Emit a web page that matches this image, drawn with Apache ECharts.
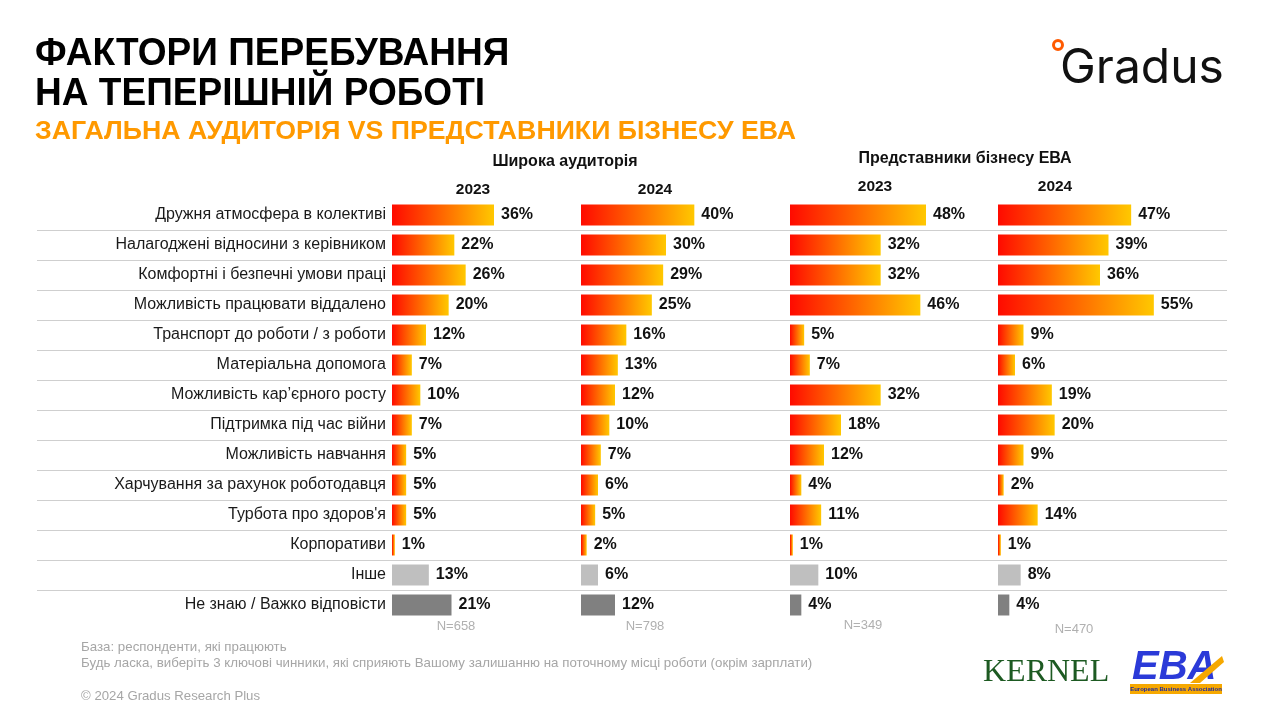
<!DOCTYPE html>
<html>
<head>
<meta charset="utf-8">
<script src="https://cdn.jsdelivr.net/npm/echarts@6/dist/echarts.min.js"></script>
<style>
html,body{margin:0;padding:0;background:#fff;}
#chart{width:1270px;height:707px;}
</style>
</head>
<body>
<div id="chart"></div>
<script>
// ---- Data ----
const categories = [
  'Дружня атмосфера в колективі',
  'Налагоджені відносини з керівником',
  'Комфортні і безпечні умови праці',
  'Можливість працювати віддалено',
  'Транспорт до роботи / з роботи',
  'Матеріальна допомога',
  'Можливість кар’єрного росту',
  'Підтримка під час війни',
  'Можливість навчання',
  'Харчування за рахунок роботодавця',
  "Турбота про здоров'я",
  'Корпоративи',
  'Інше',
  'Не знаю / Важко відповісти'
];
const wide2023 = [36, 22, 26, 20, 12, 7, 10, 7, 5, 5, 5, 1, 13, 21];
const wide2024 = [40, 30, 29, 25, 16, 13, 12, 10, 7, 6, 5, 2, 6, 12];
const eba2023  = [48, 32, 32, 46, 5, 7, 32, 18, 12, 4, 11, 1, 10, 4];
const eba2024  = [47, 39, 36, 55, 9, 6, 19, 20, 9, 2, 14, 1, 8, 4];
const panelYears = ['2023', '2024', '2023', '2024'];
const groupTitles = ['Широка аудиторія', 'Представники бізнесу ЕВА'];
const sampleSizes = ['N=658', 'N=798', 'N=349', 'N=470'];

// ---- Layout / style ----
const series = [wide2023, wide2024, eba2023, eba2024];
const panelLeft = [392, 581, 790, 998];
const gridTop = 200, gridHeight = 420;
const chart = echarts.init(document.getElementById('chart'));
const FONT = '"Liberation Sans", Arial, sans-serif';

function barColor(i) {
  if (i === categories.length - 2) return '#bfbfbf';
  if (i === categories.length - 1) return '#808080';
  return new echarts.graphic.LinearGradient(0, 0, 1, 0, [
    { offset: 0, color: '#ff0a00' },
    { offset: 1, color: '#ffc800' }
  ]);
}

const grids = [{ left: 37, right: 43, top: gridTop, height: gridHeight }];
const xAxes = [{ gridIndex: 0, type: 'value', show: false }];
const yAxes = [{
  gridIndex: 0, type: 'category', data: categories, inverse: true,
  axisLine: { show: false }, axisTick: { show: false }, axisLabel: { show: false },
  splitLine: { show: true, showMinLine: false, showMaxLine: false, lineStyle: { color: '#cfcfcf', width: 1.2 } }
}];
const seriesOpts = [];
series.forEach((vals, p) => {
  const gi = p + 1;
  grids.push({ left: panelLeft[p], width: 170, top: gridTop, height: gridHeight });
  xAxes.push({ gridIndex: gi, type: 'value', min: 0, max: 60, show: false });
  yAxes.push({
    gridIndex: gi, type: 'category', data: categories, inverse: true,
    axisLine: { show: false }, axisTick: { show: false }, splitLine: { show: false },
    axisLabel: p === 0
      ? { show: true, margin: 6, fontSize: 16, color: '#1a1a1a', fontFamily: FONT }
      : { show: false }
  });
  seriesOpts.push({
    type: 'bar', xAxisIndex: gi, yAxisIndex: gi, barWidth: 21,
    data: vals.map((v, i) => ({ value: v, itemStyle: { color: barColor(i) } })),
    label: {
      show: true, position: 'right', distance: 7, formatter: '{c}%',
      fontSize: 16, fontWeight: 'bold', color: '#111', fontFamily: FONT
    },
    silent: true, animation: false
  });
});

const panelCenters = [473, 655, 875, 1055];
const yearY = [190, 190, 187, 187];
const nCenters = [456, 645, 863, 1074];
const nY = [626, 626, 625, 629];

const graphics = [
  { type: 'text', x: 35, y: 55, scaleX: 0.975, style: { text: 'ФАКТОРИ ПЕРЕБУВАННЯ', font: 'bold 38px ' + FONT, fill: '#000', textVerticalAlign: 'middle' } },
  { type: 'text', x: 35, y: 95, scaleX: 0.975, style: { text: 'НА ТЕПЕРІШНІЙ РОБОТІ', font: 'bold 38px ' + FONT, fill: '#000', textVerticalAlign: 'middle' } },
  { type: 'text', x: 35, y: 132, style: { text: 'ЗАГАЛЬНА АУДИТОРІЯ VS ПРЕДСТАВНИКИ БІЗНЕСУ ЕВА', font: 'bold 26.7px ' + FONT, fill: '#ff9900', textVerticalAlign: 'middle' } },
  { type: 'text', x: 565, y: 162, style: { text: groupTitles[0], font: 'bold 16px ' + FONT, fill: '#111', textAlign: 'center', textVerticalAlign: 'middle' } },
  { type: 'text', x: 965, y: 159, style: { text: groupTitles[1], font: 'bold 16px ' + FONT, fill: '#111', textAlign: 'center', textVerticalAlign: 'middle' } },
  { type: 'text', x: 81, y: 647, style: { text: 'База: респонденти, які працюють', font: '13.3px ' + FONT, fill: '#a6a6a6', textVerticalAlign: 'middle' } },
  { type: 'text', x: 81, y: 663, style: { text: 'Будь ласка, виберіть 3 ключові чинники, які сприяють Вашому залишанню на поточному місці роботи (окрім зарплати)', font: '13.3px ' + FONT, fill: '#a6a6a6', textVerticalAlign: 'middle' } },
  { type: 'text', x: 81, y: 696, style: { text: '© 2024 Gradus Research Plus', font: '13.2px ' + FONT, fill: '#a6a6a6', textVerticalAlign: 'middle' } },
  // Gradus logo
  { type: 'circle', shape: { cx: 1058, cy: 45, r: 4.5 }, style: { fill: 'none', stroke: '#ff5a00', lineWidth: 3 } },
  { type: 'text', x: 1060, y: 69, style: { text: 'Gradus', font: '48px Inter, "Noto Sans", sans-serif', fill: '#111', textVerticalAlign: 'middle' } },
  // KERNEL logo
  { type: 'text', x: 983, y: 673, style: { text: 'KERNEL', font: '32px "Liberation Serif", serif', fill: '#1d5a22', textVerticalAlign: 'middle' } },
  // EBA logo
  { type: 'text', x: 1132, y: 668, style: { text: 'EBA', font: 'italic bold 40px "Liberation Sans", sans-serif', fill: '#2b3ad8', textVerticalAlign: 'middle' } },
  { type: 'polygon', shape: { points: [[1190, 683], [1222, 656], [1224, 662], [1200, 683]] }, style: { fill: '#f6a800' } },
  { type: 'rect', shape: { x: 1130, y: 684, width: 92, height: 10 }, style: { fill: '#f6a800' } },
  { type: 'text', x: 1176, y: 689, style: { text: 'European Business Association', font: 'bold 6px "Liberation Sans", sans-serif', fill: '#1e2aa0', textAlign: 'center', textVerticalAlign: 'middle' } }
];
panelYears.forEach((y, p) => {
  graphics.push({ type: 'text', x: panelCenters[p], y: yearY[p], style: { text: y, font: 'bold 15.5px ' + FONT, fill: '#111', textAlign: 'center', textVerticalAlign: 'middle' } });
});
sampleSizes.forEach((n, p) => {
  graphics.push({ type: 'text', x: nCenters[p], y: nY[p], style: { text: n, font: '13px ' + FONT, fill: '#b0b0b0', textAlign: 'center', textVerticalAlign: 'middle' } });
});

chart.setOption({
  animation: false,
  backgroundColor: '#ffffff',
  grid: grids,
  xAxis: xAxes,
  yAxis: yAxes,
  series: seriesOpts,
  graphic: graphics
});
</script>
</body>
</html>
